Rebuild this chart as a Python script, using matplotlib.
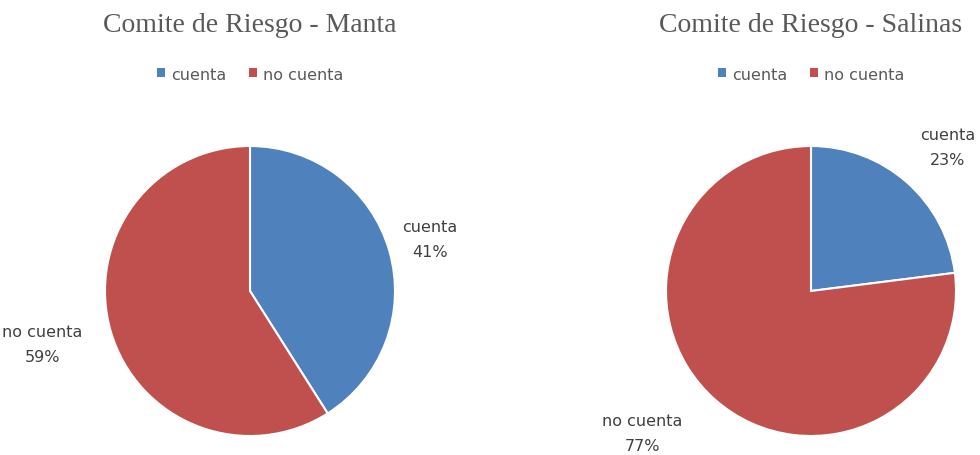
import numpy as np
import matplotlib
matplotlib.use("Agg")
import matplotlib.pyplot as plt

categories = ["cuenta", "no cuenta"]
titles = ["Comite de Riesgo - Manta", "Comite de Riesgo - Salinas"]
manta = [41, 59]
salinas = [23, 77]
colors = ["#4F81BD", "#C0504D"]

W, H = 980, 456
fig = plt.figure(figsize=(W / 100, H / 100), dpi=100)

R = 145
centers = [(250, 292), (811, 292)]
# per-label (distance, angle offset in deg) for label placement
label_layout = [
    [(1.29, 0.0), (1.48, -1.9)],
    [(1.37, -2.2), (1.52, -8.6)],
]
title_x = [250, 811]
legend_y = 75
title_y = 25

for i, (vals, title) in enumerate(zip([manta, salinas], titles)):
    cx, cy = centers[i]
    ax = fig.add_axes([(cx - R) / W, (H - cy - R) / H, 2 * R / W, 2 * R / H])
    wedges, _ = ax.pie(vals, colors=colors, startangle=90, counterclock=False,
                       radius=1, wedgeprops=dict(edgecolor="white", linewidth=1.5))
    ax.set_xlim(-1, 1)
    ax.set_ylim(-1, 1)
    ax.set_aspect("equal")
    ax.axis("off")
    total = sum(vals)
    for j, (w, v) in enumerate(zip(wedges, vals)):
        mid = (w.theta1 + w.theta2) / 2
        d, off = label_layout[i][j]
        a = np.deg2rad(mid + off)
        ax.text(d * np.cos(a), d * np.sin(a), f"{categories[j]}\n{round(100 * v / total)}%",
                ha="center", va="center", fontsize=11.5, color="#404040",
                family="DejaVu Sans", linespacing=1.85, clip_on=False)
    fig.text(title_x[i] / W, 1 - title_y / H, title, ha="center", va="center",
             fontsize=20, color="#595959", family="Liberation Serif")
    leg = fig.legend(wedges, categories, loc="center",
                     bbox_to_anchor=(title_x[i] / W, 1 - legend_y / H),
                     ncol=2, frameon=False, handlelength=0.5, handleheight=0.5,
                     columnspacing=1.4, handletextpad=0.4,
                     prop=dict(family="DejaVu Sans", size=11.5))
    for t in leg.get_texts():
        t.set_color("#595959")
    for h in leg.legend_handles:
        h.set_edgecolor("none")

fig.savefig("out.png", dpi=100)
